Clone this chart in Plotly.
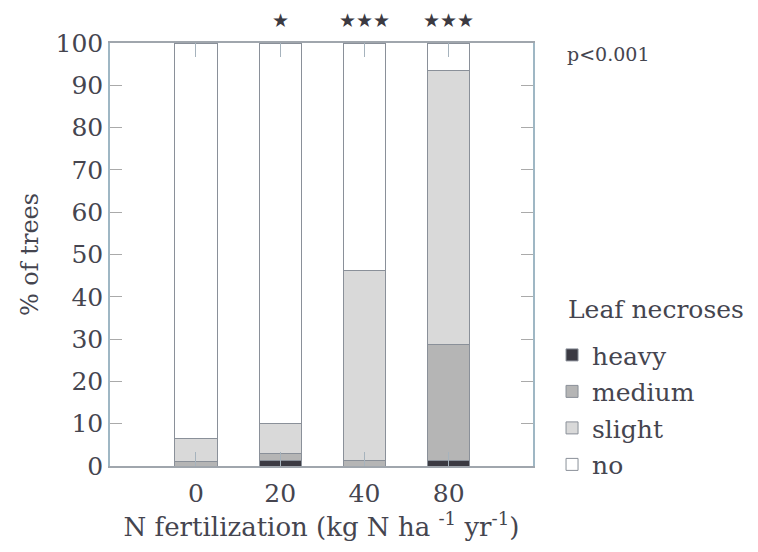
import plotly.graph_objects as go

# N fertilization levels (kg N ha-1 yr-1)
doses = ["0", "20", "40", "80"]

# Share of trees per leaf-necrosis class (%), stacked bottom to top
heavy = [0.0, 1.4, 0.0, 1.3]
medium = [1.0, 1.6, 1.4, 27.5]
slight = [5.6, 7.0, 44.8, 64.6]
no_damage = [93.4, 90.0, 53.8, 6.6]

significance = ["", "★", "★★★", "★★★"]

font_family = "DejaVu Serif"
text_color = "#45454f"
edge_color = "#8a9099"

series = [
    ("heavy", heavy, "#3b3a42"),
    ("medium", medium, "#b5b5b5"),
    ("slight", slight, "#d9d9d9"),
    ("no", no_damage, "#ffffff"),
]

fig = go.Figure()
for name, vals, color in series:
    fig.add_trace(go.Bar(
        x=doses, y=vals, name=name, width=0.5,
        marker=dict(color=color, line=dict(color=edge_color, width=1)),
        legendgroup=name,
    ))

# significance stars above each bar (category index used as position)
for i, star in enumerate(significance):
    if star:
        fig.add_annotation(x=i, y=100, xref="x", yref="y", text=star, showarrow=False,
                           yanchor="bottom", yshift=10,
                           font=dict(size=19, color="#3b3a42", family="DejaVu Sans"))

fig.add_annotation(x=1.075, y=1.0, xref="paper", yref="paper", text="p<0.001",
                   showarrow=False, xanchor="left", yanchor="bottom", yshift=-24,
                   font=dict(size=19, color=text_color, family=font_family))

# legend heading placed as its own label above the entries
fig.add_annotation(x=1.077, y=0.369, xref="paper", yref="paper", text="Leaf necroses",
                   showarrow=False, xanchor="left", yanchor="middle",
                   font=dict(size=25, color=text_color, family=font_family))

fig.update_layout(
    width=758, height=552,
    margin=dict(l=110, r=225, t=43, b=86),
    barmode="stack",
    plot_bgcolor="white", paper_bgcolor="white",
    font=dict(family=font_family, color=text_color, size=24),
    legend=dict(
        traceorder="grouped", tracegroupgap=1,
        x=1.045, xanchor="left", y=-0.05, yanchor="bottom",
        font=dict(size=25), bgcolor="rgba(0,0,0,0)",
        itemclick=False,
    ),
    xaxis=dict(
        type="category", range=[-1.02, 4.0],
        showline=True, linecolor="#a0a6ad", linewidth=1.5, mirror="ticks",
        ticks="inside", ticklen=14, tickcolor="#a6b3bd",
        tickfont=dict(size=25), ticklabelstandoff=4, showgrid=False,
        title=dict(text="N fertilization (kg N ha <sup>-1</sup> yr<sup>-1</sup>)",
                   font=dict(size=26), standoff=10),
    ),
    yaxis=dict(
        range=[0, 100], dtick=10,
        showline=True, linecolor="#9fb7c4", linewidth=1.5, mirror="ticks",
        ticks="inside", ticklen=12, tickcolor="#aaaaaa",
        tickfont=dict(size=25), showgrid=False, zeroline=False,
        title=dict(text="% of trees", font=dict(size=24), standoff=10),
    ),
)

fig.write_html("out.html")
